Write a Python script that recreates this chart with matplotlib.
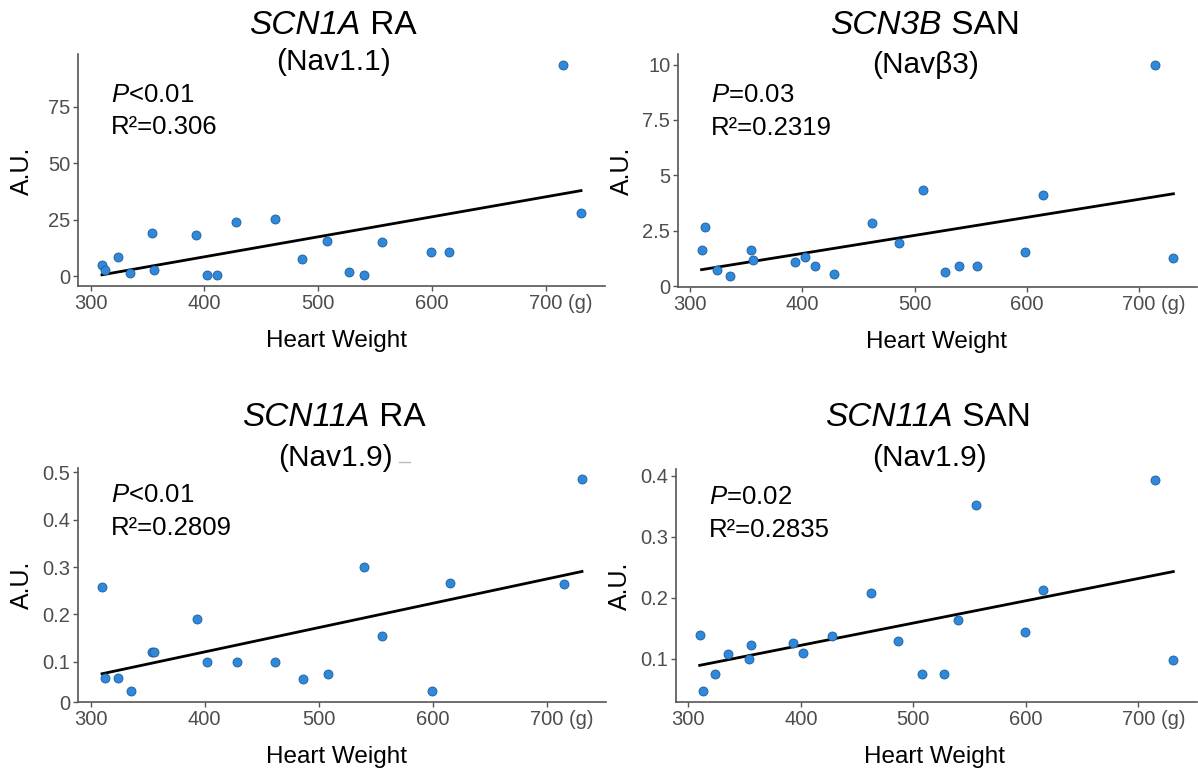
import numpy as np
import matplotlib
matplotlib.use("Agg")
import matplotlib.pyplot as plt
import matplotlib.transforms as mtransforms
from matplotlib.lines import Line2D

plt.rcParams["font.family"] = ["Liberation Sans", "DejaVu Sans"]
plt.rcParams["mathtext.fontset"] = "custom"
plt.rcParams["mathtext.rm"] = "Liberation Sans"
plt.rcParams["mathtext.it"] = "Liberation Sans:italic"

W, H = 1198, 769

# heart weights (g) and expression (A.U.) per panel
scn1a_ra_x = [310, 313, 324, 335, 354, 356, 393, 402, 411, 428,
              462, 486, 508, 527, 540, 556, 599, 615, 715, 731]
scn1a_ra_y = [5.1, 2.9, 8.5, 1.5, 19.3, 2.9, 18.1, 0.3, 0.4, 24.1,
              25.4, 7.4, 15.7, 1.9, 0.6, 15.0, 10.9, 10.6, 93.8, 27.9]

scn3b_san_x = [310, 313, 324, 335, 354, 356, 393, 402, 411, 428,
               462, 486, 508, 527, 540, 556, 599, 615, 715, 731]
scn3b_san_y = [1.62, 2.69, 0.75, 0.44, 1.65, 1.20, 1.08, 1.31, 0.89, 0.56,
               2.86, 1.94, 4.33, 0.63, 0.89, 0.90, 1.53, 4.12, 10.0, 1.25]

scn11a_ra_x = [310, 313, 324, 335, 354, 356, 393, 402, 428,
               462, 486, 508, 540, 556, 599, 615, 715, 731]
scn11a_ra_y = [0.258, 0.065, 0.066, 0.037, 0.120, 0.120, 0.190, 0.099, 0.099,
               0.099, 0.063, 0.073, 0.300, 0.154, 0.038, 0.267, 0.264, 0.487]

scn11a_san_x = [310, 313, 324, 335, 354, 356, 393, 402, 428,
                462, 486, 508, 527, 540, 556, 599, 615, 715, 731]
scn11a_san_y = [0.138, 0.046, 0.075, 0.108, 0.100, 0.122, 0.125, 0.109, 0.137,
                0.207, 0.129, 0.075, 0.074, 0.163, 0.352, 0.144, 0.213, 0.394, 0.098]

x_ticks = [300, 400, 500, 600, 700]
x_labels = ["300", "400", "500", "600", "700 (g)"]

panels = [
    dict(x=scn1a_ra_x, y=scn1a_ra_y, gene="SCN1A", tissue="RA", sub="(Nav1.1)",
         p="$\\it{P}$<0.01", r2="R²=0.306",
         yticks=[0, 25, 50, 75], ylabels=["0", "25", "50", "75"],
         rect=(78, 54, 605, 286), title_y=(25, 62), stat_y=(95, 127), cx=333),
    dict(x=scn3b_san_x, y=scn3b_san_y, gene="SCN3B", tissue="SAN", sub="(Navβ3)",
         p="$\\it{P}$=0.03", r2="R²=0.2319",
         yticks=[0, 2.5, 5, 7.5, 10], ylabels=["0", "2.5", "5", "7.5", "10"],
         rect=(678, 54, 1197, 287), title_y=(25, 65), stat_y=(95, 128), cx=925),
    dict(x=scn11a_ra_x, y=scn11a_ra_y, gene="SCN11A", tissue="RA", sub="(Nav1.9)",
         p="$\\it{P}$<0.01", r2="R²=0.2809",
         yticks=[None, 0.1, 0.2, 0.3, 0.4, 0.5],
         ylabels=["0", "0.1", "0.2", "0.3", "0.4", "0.5"],
         rect=(78, 468, 606, 702), title_y=(418, 458), stat_y=(495, 528), cx=334),
    dict(x=scn11a_san_x, y=scn11a_san_y, gene="SCN11A", tissue="SAN", sub="(Nav1.9)",
         p="$\\it{P}$=0.02", r2="R²=0.2835",
         yticks=[0.1, 0.2, 0.3, 0.4], ylabels=["0.1", "0.2", "0.3", "0.4"],
         rect=(676, 469, 1197, 702), title_y=(418, 458), stat_y=(497, 530), cx=928),
]

POINT_FILL = "#2F88DA"
POINT_EDGE = "#1D5C99"
AXIS_GREY = "#555555"
TEXT_GREY = "#4D4D4D"

fig = plt.figure(figsize=(W / 100, H / 100), dpi=100)
renderer = fig.canvas.get_renderer()


def two_part_title(cx, cy, italic, plain, size):
    """Italic gene name followed by plain tissue name, centred at (cx, cy) px."""
    t1 = fig.text(0, 1 - cy / H, italic, fontstyle="italic", fontsize=size,
                  ha="left", va="center")
    t2 = fig.text(0, 1 - cy / H, " " + plain, fontsize=size,
                  ha="left", va="center")
    w1 = t1.get_window_extent(renderer).width
    w2 = t2.get_window_extent(renderer).width
    x0 = cx - (w1 + w2) / 2
    t1.set_x(x0 / W)
    t2.set_x((x0 + w1) / W)


for pn in panels:
    l, t, r, b = pn["rect"]
    ax = fig.add_axes([l / W, 1 - b / H, (r - l) / W, (b - t) / H])
    x = np.array(pn["x"], dtype=float)
    y = np.array(pn["y"], dtype=float)

    # least squares fit line across the data range
    slope, icpt = np.polyfit(x, y, 1)
    xl = np.array([x.min(), x.max()])
    ax.plot(xl, slope * xl + icpt, color="black", lw=2.0, zorder=2)
    ax.scatter(x, y, s=42, facecolor=POINT_FILL, edgecolor=POINT_EDGE,
               linewidth=0.6, zorder=3)
    ax.margins(0.05)

    ax.set_xticks(x_ticks)
    ax.set_xticklabels(x_labels)

    lo = ax.get_ylim()[0]
    yt = [lo if v is None else v for v in pn["yticks"]]
    ax.set_yticks(yt)
    ax.set_yticklabels(pn["ylabels"])

    for s in ["top", "right"]:
        ax.spines[s].set_visible(False)
    for s in ["left", "bottom"]:
        ax.spines[s].set_color(AXIS_GREY)
        ax.spines[s].set_linewidth(1.2)
    ax.tick_params(colors=AXIS_GREY, labelcolor=TEXT_GREY, labelsize=14.5,
                   length=3.5, width=1.0, pad=2)
    ax.set_facecolor("none")

    # keep "700" centred on its tick, with the unit trailing to the right
    lab = ax.get_xticklabels()[-1]
    lab.set_horizontalalignment("left")
    off = mtransforms.ScaledTranslation(-16.5 / 100, 0, fig.dpi_scale_trans)
    lab.set_transform(lab.get_transform() + off)

    # two-line title
    two_part_title(pn["cx"], pn["title_y"][0], pn["gene"], pn["tissue"], 24)
    fig.text((pn["cx"] + 1) / W, 1 - pn["title_y"][1] / H, pn["sub"],
             ha="center", va="center", fontsize=21.5)

    # statistics
    sx = (l + 33) / W
    fig.text(sx, 1 - pn["stat_y"][0] / H, pn["p"], ha="left", va="center", fontsize=18.5)
    fig.text(sx, 1 - pn["stat_y"][1] / H, pn["r2"], ha="left", va="center", fontsize=18.5)

    # axis titles
    fig.text((l + 259) / W, 1 - (b + 55) / H, "Heart Weight",
             ha="center", va="center", fontsize=17.5)
    fig.text((l - 56) / W, 1 - (t + 117) / H, "A.U.", rotation=90,
             ha="center", va="center", fontsize=18)

# small stray mark beside the lower-left subtitle
fig.add_artist(Line2D([399 / W, 410 / W], [1 - 462 / H, 1 - 462 / H],
                      color="#BBBBBB", lw=1.0))

fig.savefig("out.png", dpi=100)
